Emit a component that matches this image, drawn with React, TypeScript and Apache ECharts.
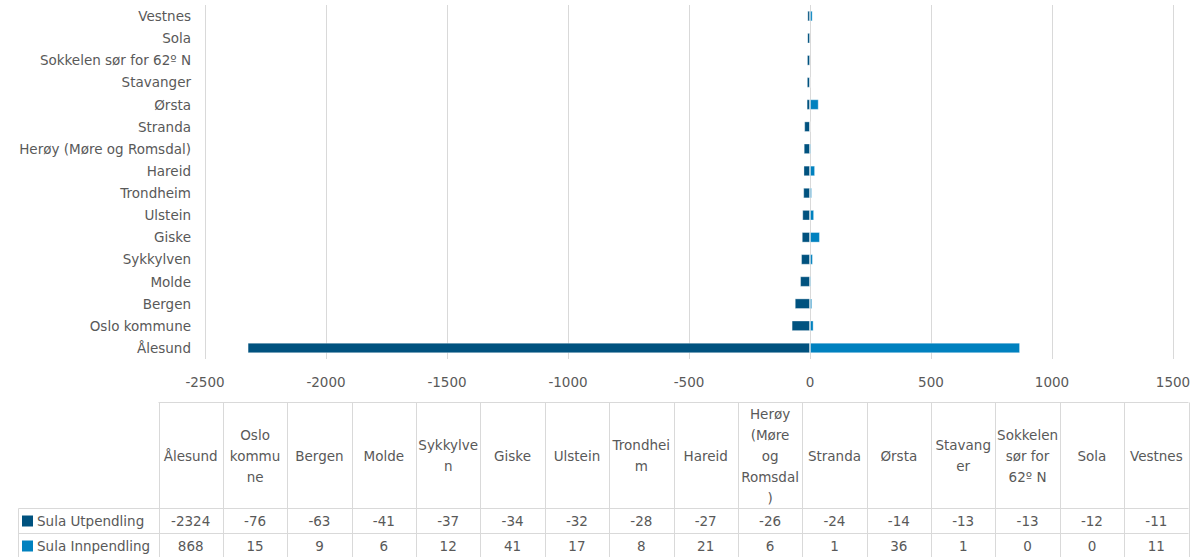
import React, { useEffect, useRef } from "react";
import * as echarts from "echarts";

const categories = [
  "Ålesund",
  "Oslo kommune",
  "Bergen",
  "Molde",
  "Sykkylven",
  "Giske",
  "Ulstein",
  "Trondheim",
  "Hareid",
  "Herøy (Møre og Romsdal)",
  "Stranda",
  "Ørsta",
  "Stavanger",
  "Sokkelen sør for 62º N",
  "Sola",
  "Vestnes",
];

const headerLabels = [
  "Ålesund",
  "Oslo\nkommu\nne",
  "Bergen",
  "Molde",
  "Sykkylve\nn",
  "Giske",
  "Ulstein",
  "Trondhei\nm",
  "Hareid",
  "Herøy\n(Møre\nog\nRomsdal\n)",
  "Stranda",
  "Ørsta",
  "Stavang\ner",
  "Sokkelen\nsør for\n62º N",
  "Sola",
  "Vestnes",
];

const utpendling = [-2324, -76, -63, -41, -37, -34, -32, -28, -27, -26, -24, -14, -13, -13, -12, -11];
const innpendling = [868, 15, 9, 6, 12, 41, 17, 8, 21, 6, 1, 36, 1, 0, 0, 11];

const seriesNames = ["Sula Utpendling", "Sula Innpendling"];
const seriesColors = ["#00527f", "#0081bf"];

const FONT = "'DejaVu Sans', 'Noto Sans', sans-serif";
const FS = 13.5;
const TEXT_COLOR = "#595959";
const LINE_COLOR = "#d9d9d9";

function buildTable() {
  const els: any[] = [];
  const tLeft = 158.5;
  const tRight = 1188.5;
  const legLeft = 18.5;
  const top = 402.5;
  const hBottom = 508.5;
  const r1Bottom = 533.5;
  const r2Bottom = 558.5;
  const n = categories.length;
  const cw = (tRight - tLeft) / n;
  const line = (x1: number, y1: number, x2: number, y2: number) => ({
    type: "line",
    silent: true,
    shape: { x1, y1, x2, y2 },
    style: { stroke: LINE_COLOR, lineWidth: 1 },
  });
  els.push(line(tLeft, top, tRight, top));
  els.push(line(legLeft, hBottom, tRight, hBottom));
  els.push(line(legLeft, r1Bottom, tRight, r1Bottom));
  els.push(line(legLeft, r2Bottom, tRight, r2Bottom));
  els.push(line(legLeft, hBottom, legLeft, r2Bottom));
  for (let i = 0; i <= n; i++) {
    const x = Math.round(tLeft + i * cw) + 0.5;
    els.push(line(x, top, x, r2Bottom));
  }
  const rows = [utpendling, innpendling];
  const rowCenters = [(hBottom + r1Bottom) / 2, (r1Bottom + r2Bottom) / 2];
  for (let i = 0; i < n; i++) {
    const cx = tLeft + (i + 0.5) * cw;
    els.push({
      type: "text",
      silent: true,
      style: {
        text: headerLabels[i],
        x: cx,
        y: (top + hBottom) / 2,
        align: "center",
        verticalAlign: "middle",
        textAlign: "center",
        textVerticalAlign: "middle",
        fontFamily: FONT,
        fontSize: FS,
        lineHeight: 21,
        fill: TEXT_COLOR,
      },
    });
    rows.forEach((arr, r) => {
      els.push({
        type: "text",
        silent: true,
        style: {
          text: String(arr[i]),
          x: cx,
          y: rowCenters[r],
          align: "center",
          verticalAlign: "middle",
          textAlign: "center",
          textVerticalAlign: "middle",
          fontFamily: FONT,
          fontSize: FS,
          fill: TEXT_COLOR,
        },
      });
    });
  }
  seriesNames.forEach((name, r) => {
    els.push({
      type: "rect",
      silent: true,
      shape: { x: 22, y: rowCenters[r] - 5.5, width: 11, height: 11 },
      style: { fill: seriesColors[r] },
    });
    els.push({
      type: "text",
      silent: true,
      style: {
        text: name,
        x: 37,
        y: rowCenters[r],
        align: "left",
        verticalAlign: "middle",
        textAlign: "left",
        textVerticalAlign: "middle",
        fontFamily: FONT,
        fontSize: FS,
        fill: TEXT_COLOR,
      },
    });
  });
  return els;
}

export default function App() {
  const ref = useRef<HTMLDivElement>(null);
  useEffect(() => {
    if (!ref.current) return;
    const chart = echarts.init(ref.current, undefined, { renderer: "svg" });
    chart.setOption({
      animation: false,
      textStyle: { fontFamily: FONT },
      grid: { left: 205, right: 21, top: 5, bottom: 557 - 359, containLabel: false },
      xAxis: {
        type: "value",
        min: -2500,
        max: 1500,
        interval: 500,
        axisLine: { show: false },
        axisTick: { show: false },
        splitLine: { lineStyle: { color: LINE_COLOR, width: 1 } },
        axisLabel: {
          color: TEXT_COLOR,
          fontSize: FS,
          fontFamily: FONT,
          margin: 16,
          formatter: (v: number) => String(v),
        },
      },
      yAxis: {
        type: "category",
        data: categories,
        axisLine: { show: false },
        axisTick: { show: false },
        splitLine: { show: false },
        axisLabel: { color: TEXT_COLOR, fontSize: FS, fontFamily: FONT, margin: 14 },
      },
      series: [
        {
          name: seriesNames[0],
          type: "bar",
          stack: "total",
          data: utpendling,
          barWidth: "48%",
          itemStyle: { color: seriesColors[0], borderColor: "rgba(255,255,255,0.35)", borderWidth: 1 },
        },
        {
          name: seriesNames[1],
          type: "bar",
          stack: "total",
          data: innpendling,
          barWidth: "48%",
          itemStyle: { color: seriesColors[1], borderColor: "rgba(255,255,255,0.35)", borderWidth: 1 },
        },
      ],
      graphic: buildTable(),
    });
    return () => chart.dispose();
  }, []);
  return (
    <div
      ref={ref}
      style={{ position: "fixed", left: 0, top: 0, width: 1194, height: 557, background: "#fff" }}
    />
  );
}
